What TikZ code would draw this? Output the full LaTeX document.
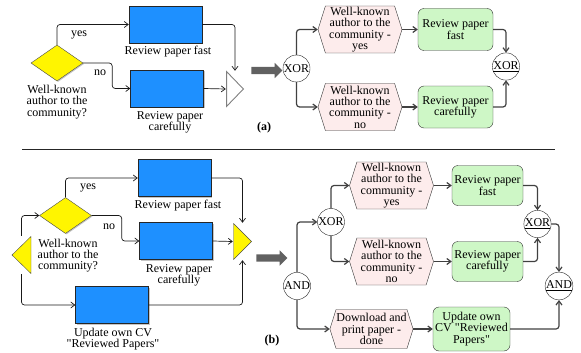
\documentclass[tikz,border=0pt]{standalone}
\usepackage{fontspec}
\setmainfont{Liberation Serif}[Ligatures=TeXOff]
\usetikzlibrary{arrows.meta,shapes.geometric,shapes.symbols,shapes.arrows,shadows}
\definecolor{taskblue}{RGB}{30,144,255}
\definecolor{condpink}{RGB}{253,236,236}
\definecolor{funcgreen}{RGB}{206,247,198}
\definecolor{gateyellow}{RGB}{255,245,0}
\begin{document}
\begin{tikzpicture}[x=1pt,y=-1pt,
  font=\rmfamily\fontsize{12}{11.3}\selectfont,
  task/.style={draw=black!85, fill=taskblue, minimum width=73, minimum height=37, inner sep=0,
    drop shadow={shadow xshift=1.2pt, shadow yshift=-1.2pt, fill=black!45}},
  decide/.style={diamond, draw=black!70, fill=gateyellow, minimum width=52, minimum height=36, inner sep=0,
    drop shadow={shadow xshift=1pt, shadow yshift=-1pt, fill=black!45}},
  txt/.style={align=center, inner sep=0},
  flow/.style={-{Straight Barb[length=4pt,width=6pt]}, rounded corners=3pt, line width=0.7, black!90},
  eflow/.style={flow, line width=1.2, draw=black!75},
  cond/.style={signal, signal to=east and west, signal pointer angle=145, draw=black!80, fill=condpink,
    minimum width=84, minimum height=47, inner sep=0.3, align=center},
  func/.style={rounded corners=6pt, draw=black!80, fill=funcgreen, minimum width=75, minimum height=42,
    inner sep=1, align=center},
  conn/.style={circle, draw=black!85, fill=white, minimum size=27, inner sep=0},
  bigarrow/.style={single arrow, fill=black!62, minimum width=0, minimum height=31, inner xsep=0,
    inner ysep=3.5pt, single arrow head extend=4pt, single arrow head indent=0},
  gatebox/.style={minimum width=19, minimum height=37, inner sep=0},
  gateA/.style={gatebox, path picture={\draw[draw=black!50, line width=0.9, fill=white]
    ([shift={(0.6pt,-0.6pt)}]path picture bounding box.north west) -- ([shift={(-0.6pt,0pt)}]path picture bounding box.east)
    -- ([shift={(0.6pt,0.6pt)}]path picture bounding box.south west) -- cycle;}},
  gateR/.style={gatebox, path picture={\draw[draw=black!70, fill=gateyellow]
    ([shift={(0.5pt,-0.5pt)}]path picture bounding box.north west) -- ([shift={(-0.5pt,0pt)}]path picture bounding box.east)
    -- ([shift={(0.5pt,0.5pt)}]path picture bounding box.south west) -- cycle;}},
  gateL/.style={gatebox, path picture={\draw[draw=black!70, fill=gateyellow]
    ([shift={(-0.5pt,-0.5pt)}]path picture bounding box.north east) -- ([shift={(0.5pt,0pt)}]path picture bounding box.west)
    -- ([shift={(-0.5pt,0.5pt)}]path picture bounding box.south east) -- cycle;}}]
\useasboundingbox (0,0) rectangle (581,353);

\node[decide] (dA) at (57,63) {};
\node[txt] (dAtxt) at (57,102) {Well-known\\author to the\\community?};
\node[task] (tA1) at (165.5,24.5) {};
\node[txt] (tA1txt) at (168,52) {Review paper fast};
\node[task] (tA2) at (167,88.5) {};
\node[txt] (tA2txt) at (170,122.5) {Review paper\\carefully};
\node[gateA, minimum width=18, minimum height=36] (gA) at (235,89) {};
\node[txt] (yesA) at (79,35) {yes};
\node[txt] (noA) at (100,73) {no};
\draw[flow] (dA.north) |- (tA1.west);
\draw[flow] (dA.east) -- ++(29,0) |- (tA2.west);
\draw[flow] (tA1.east) -| (gA.north);
\draw[flow] (tA2.east) -- (gA.west);
\node[bigarrow] (arrA) at (265,70.5) {};
\node[txt, font=\rmfamily\fontsize{12}{11}\selectfont\bfseries] (labA) at (264,128) {(a)};

\node[conn] (xA1) at (296.5,68.5) {XOR};
\node[cond] (cA1) at (360,29.5) {Well-known\\author to the\\community -\\yes};
\node[cond] (cA2) at (360,107) {Well-known\\author to the\\community -\\no};
\node[func] (fA1) at (455.5,29.5) {Review paper\\fast};
\node[func] (fA2) at (455.5,107) {Review paper\\carefully};
\node[conn] (xA2) at (506,66.5) {\underline{XOR}};
\draw[eflow] (xA1.north) |- (cA1.west);
\draw[eflow] (xA1.south) |- (cA2.west);
\draw[eflow] (cA1.east) -- (fA1.west);
\draw[eflow] (cA2.east) -- (fA2.west);
\draw[eflow] (fA1.east) -| (xA2.north);
\draw[eflow] (fA2.east) -| (xA2.south);

\draw[black!85, line width=0.8] (22,149) -- (555,149);

\node[gateL, minimum width=20, minimum height=38] (gB1) at (21.5,255) {};
\node[decide] (dB) at (65.5,215.5) {};
\node[txt] (dBtxt) at (68,255.5) {Well-known\\author to the\\community?};
\node[task] (tB1) at (174.5,178) {};
\node[txt] (tB1txt) at (178,206) {Review paper fast};
\node[task] (tB2) at (176,241) {};
\node[txt] (tB2txt) at (179,275.5) {Review paper\\carefully};
\node[task] (tB3) at (112,305) {};
\node[txt] (tB3txt) at (113,339) {Update own CV\\"Reviewed Papers"};
\node[gateR] (gB2) at (242.5,241.5) {};
\node[txt] (yesB) at (88,188) {yes};
\node[txt] (noB) at (109,227) {no};
\draw[flow] (gB1.north) |- (dB.west);
\draw[flow] (gB1.south) |- (tB3.west);
\draw[flow] (dB.north) |- (tB1.west);
\draw[flow] (dB.east) -- ++(30,0) |- (tB2.west);
\draw[flow] (tB1.east) -| (gB2.north);
\draw[flow] (tB2.east) -- (gB2.west);
\draw[flow] (tB3.east) -| (gB2.south);
\node[bigarrow] (arrB) at (270,258) {};
\node[txt, font=\rmfamily\fontsize{12}{11}\selectfont\bfseries] (labB) at (272,341) {(b)};

\node[conn] (aB1) at (297,286) {AND};
\node[conn] (xB1) at (331,222) {XOR};
\node[cond] (cB1) at (391.5,185.5) {Well-known\\author to the\\community -\\yes};
\node[cond] (cB2) at (391.5,261.5) {Well-known\\author to the\\community -\\no};
\node[cond, minimum width=83, minimum height=39] (cB3) at (371.5,329) {Download and\\print paper -\\done};
\node[func, minimum width=71, minimum height=40] (fB1) at (487.5,185.5) {Review paper\\fast};
\node[func, minimum width=71, minimum height=40] (fB2) at (487.5,261.5) {Review paper\\carefully};
\node[func, minimum width=77, minimum height=44] (fB3) at (471.5,329) {Update own\\CV "Reviewed\\Papers"};
\node[conn] (xB2) at (537.5,224) {\underline{XOR}};
\node[conn] (aB2) at (559,286) {\underline{AND}};
\draw[eflow] (aB1.north) |- (xB1.west);
\draw[eflow] (aB1.south) |- (cB3.west);
\draw[eflow] (xB1.north) |- (cB1.west);
\draw[eflow] (xB1.south) |- (cB2.west);
\draw[eflow] (cB1.east) -- (fB1.west);
\draw[eflow] (cB2.east) -- (fB2.west);
\draw[eflow] (cB3.east) -- (fB3.west);
\draw[eflow] (fB1.east) -| (xB2.north);
\draw[eflow] (fB2.east) -| (xB2.south);
\draw[eflow] (xB2.east) -| (aB2.north);
\draw[eflow] (fB3.east) -| (aB2.south);
\end{tikzpicture}
\end{document}
